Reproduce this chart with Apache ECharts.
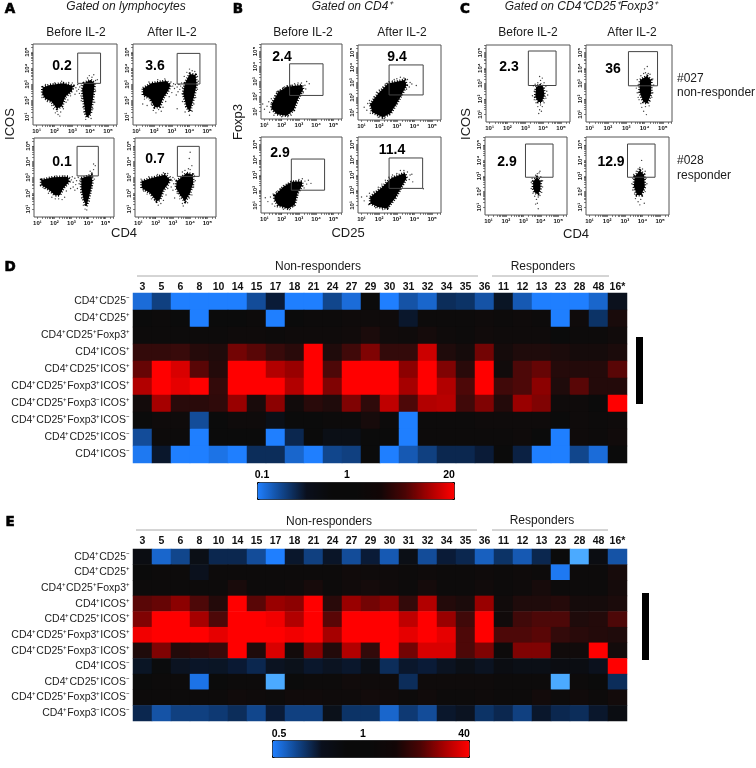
<!DOCTYPE html>
<html><head><meta charset="utf-8">
<style>html,body{margin:0;padding:0;background:#fff}#c{width:756px;height:768px}</style>
<script src="https://cdn.jsdelivr.net/npm/echarts@6/dist/echarts.min.js"></script>
</head><body><div id="c"></div>
<script>
// ---- heatmap categories ----
const patients = ['3','5','6','8','10','14','15','17','18','21','24','27','29','30','31','32','34','35','36','11','12','13','23','28','48','16*'];
const rowsD = ['CD4⁺CD25⁻','CD4⁺CD25⁺','CD4⁺CD25⁺Foxp3⁺','CD4⁺ICOS⁺','CD4⁺CD25⁺ICOS⁺','CD4⁺CD25⁺Foxp3⁺ICOS⁺','CD4⁺CD25⁺Foxp3⁻ICOS⁺','CD4⁺CD25⁺Foxp3⁺ICOS⁻','CD4⁺CD25⁺ICOS⁻','CD4⁺ICOS⁻'];
const rowsE = ['CD4⁺CD25⁻','CD4⁺CD25⁺','CD4⁺CD25⁺Foxp3⁺','CD4⁺ICOS⁺','CD4⁺CD25⁺ICOS⁺','CD4⁺CD25⁺Foxp3⁺ICOS⁺','CD4⁺CD25⁺Foxp3⁻ICOS⁺','CD4⁺ICOS⁻','CD4⁺CD25⁺ICOS⁻','CD4⁺CD25⁺Foxp3⁺ICOS⁻','CD4⁺Foxp3⁻ICOS⁻'];
// ---- heatmap values: position on the colour scale, -1 = low end, 0 = "1", +1 = high end ----
const valuesD = [
[-.85,-.5,-1,-1,-1,-1,-.6,-.2,-1,-1,-.55,-.85,0,-1,-.65,-.8,-.35,-.4,-.65,-.12,-.7,-1,-1,-1,-.8,-.08],
[0,.01,0,-1,0,0,.01,-1,0,.01,.01,.02,.02,.02,-.15,.01,.01,.01,.02,.01,.02,.01,-1,.02,-.4,.07],
[.01,.01,.01,.01,.01,.02,.02,.01,.02,.02,.02,.03,.08,.03,.02,.05,.02,.01,.03,.02,.02,.02,0,.01,.01,.03],
[.2,.2,.22,.13,.1,.45,.35,.22,.15,1,.1,.25,.5,.2,.2,.8,.1,.05,.45,.05,.1,.1,.08,.05,.05,.08],
[.4,1,.85,.35,.12,1,1,.7,.6,1,.3,1,1,1,.55,1,.5,.15,1,.03,.3,.4,.13,.12,.12,.35],
[.7,1,.9,1,.2,1,1,1,.7,1,.5,1,1,1,.65,1,.7,.3,1,.25,.3,.55,.1,.35,.12,.12],
[.04,.65,.15,.15,.18,.6,.07,.55,.03,.15,.1,.5,.18,.75,.3,.7,.72,.25,.5,.12,.6,.5,.02,.02,0,1],
[0,.02,.02,-.6,0,.02,.02,-.05,0,0,.01,.01,.06,.01,-1,.01,.01,.01,.02,.02,.02,.02,0,.02,.01,.02],
[-.6,.01,.01,-1,0,0,0,-1,-.3,0,-.05,-.05,0,0,-1,.01,.01,.01,.01,.01,.02,0,-1,.02,.01,.03],
[-.95,-.15,-1,-1,-.9,-1,-.35,-.35,-.8,-1,-.55,-.5,0,-1,-.7,-.5,-.3,-.3,-.2,0,-.25,-1,-1,-.55,-.85,0]];
const valuesE = [
[-.03,-.8,-.55,-.05,-.3,-.3,-.6,-1,-.15,-.5,-.13,-.6,-.2,-.7,-.05,-.6,-.2,-.3,-.75,-.4,-.7,-.3,0,-1.3,-.03,-.65],
[0,.01,.01,-.08,.01,.01,.01,.01,.01,.01,.01,.03,.02,.02,.01,.02,.01,.01,.02,.01,.02,.01,-.95,.01,.01,.06],
[.01,.01,.01,.01,.01,.07,.01,.01,.02,.06,.01,.03,.05,.03,.01,.05,.01,.01,.03,.01,.02,.06,.01,.01,.01,.05],
[.35,.4,.55,.3,.12,1,.35,.6,.55,1,.15,.6,.45,.55,.2,.7,.12,.08,.6,.03,.1,.1,.13,.05,.05,.08],
[.5,1,1,.65,.3,1,1,.95,.7,1,.35,1,1,1,.75,1,.6,.25,1,.03,.25,.3,.3,.1,.12,.3],
[.95,1,1,1,.9,1,1,1,.95,1,.65,1,1,1,.9,1,.9,.3,1,.3,.3,.35,.2,.15,.12,.1],
[.1,.5,.12,.17,.22,1,.1,.85,.04,.55,.12,.7,.2,1,.45,.85,.85,.3,.5,.01,.5,.5,.03,.03,1,.04],
[-.12,-.01,-.1,-.13,-.12,-.18,-.3,-.1,-.07,-.15,-.1,-.15,-.05,-.35,-.15,-.2,-.1,-.05,-.1,-.03,-.05,-.05,-.03,-.03,-.08,1],
[0,.01,.01,-.9,0,.01,.01,-1.3,0,.01,.01,.03,.02,.02,-.35,.02,.02,.02,.02,.01,.01,.01,-1.3,.01,0,-.35],
[.01,.01,.01,.01,.01,.03,.02,.01,.03,.03,.02,.02,.04,.03,.01,.03,.01,.01,.02,.01,.01,.04,.01,.03,.01,.04],
[-.3,-.65,-.5,-.5,-.45,-.35,-.55,-.2,-.5,-.5,-.07,-.4,-.4,-.8,-.45,-.6,-.15,-.1,-.4,-.3,-.5,-.15,-.3,-.35,-.15,-.03]];

// ---- flow panels: all coordinates are log10 fluorescence ----
const tickDecades = [1,2,3,4,5];
const tickLabels = {1:'10¹',2:'10²',3:'10³',4:'10⁴',5:'10⁵'};
const logMinorOffsets = [0,.3,.48,.6,.7,.78,.85,.9,.95];
const panelNumbers = {a1:'0.2',a2:'3.6',a3:'0.1',a4:'0.7',b1:'2.4',b2:'9.4',b3:'2.9',b4:'11.4',c1:'2.3',c2:'36',c3:'2.9',c4:'12.9'};

const gateA1=[3.3,4.58,3.07,4.94], gateA2=[3.3,4.59,3.03,4.92], gateA3=[3.33,4.58,3.1,4.97], gateA4=[3.26,4.53,3.07,4.97];
const gateB1=[2.46,4.4,2.07,4.18], gateB2=[2.56,4.49,2.17,4.17], gateB3=[2.56,4.49,2.0,4.05], gateB4=[2.56,4.46,2.12,4.12];
const gateC1=[3.17,4.72,2.87,5.11], gateC2=[3.12,4.71,2.85,5.07], gateC3=[3.12,4.7,2.92,5.05], gateC4=[3.15,4.71,2.92,5.05];

const blobsA1=[[[1.34,2.82],[1.75,2.97],[2.51,3.07],[3.04,2.91],[2.98,2.62],[2.6,2.24],[2.42,1.66],[2.13,1.52],[1.85,1.93],[1.47,2.14],[1.32,2.45]],
 [[3.64,3.07],[4.02,3.28],[4.25,3.07],[4.17,2.24],[4.02,1.2],[3.83,.96],[3.74,1.2],[3.6,2.24],[3.55,2.66]]];
const blobsA2=[[[1.37,2.76],[1.84,3.07],[2.69,3.22],[2.92,2.97],[2.79,2.62],[2.5,2.15],[2.32,1.63],[2.03,1.59],[1.75,2.15],[1.37,2.35]],
 [[3.74,3.07],[4.02,3.65],[4.34,3.59],[4.4,2.97],[4.25,2.25],[4.02,1.32],[3.83,1.63],[3.64,2.45]]];
const blobsA3=[[[1.23,2.84],[1.92,3.01],[2.8,3.05],[2.86,2.73],[2.51,2.31],[2.31,1.88],[2.02,1.88],[1.72,2.2],[1.23,2.52]],
 [[3.58,2.95],[4.17,3.16],[4.23,2.73],[4.04,1.78],[3.88,1.18],[3.72,1.56],[3.58,2.31]]];
const blobsA4=[[[1.19,2.76],[1.77,2.97],[2.54,3.18],[2.83,2.86],[2.73,2.61],[2.44,2.19],[2.25,1.6],[2.06,1.49],[1.67,2.02],[1.19,2.34]],
 [[3.22,2.76],[3.8,3.28],[4.15,3.18],[4.18,2.65],[3.99,2.02],[3.7,1.49],[3.41,1.91],[3.18,2.34]]];
const blobsB1=[[[1.44,1.53],[1.8,2.3],[2.3,2.65],[3.18,2.76],[3.24,2.47],[2.95,1.85],[2.7,1.1],[2.3,.72],[1.73,.82],[1.4,1.2]]];
const blobsB2=[[[1.5,1.55],[1.95,2.27],[2.5,2.93],[3.45,3.17],[3.55,2.83],[3.3,2.25],[3.05,1.72],[2.65,.95],[2.2,.68],[1.6,1.02]]];
const blobsB3=[[[1.58,1.65],[2.1,2.22],[2.6,2.55],[3.18,2.58],[3.18,2.3],[2.92,1.82],[2.75,1.05],[2.38,.78],[1.8,1],[1.58,1.38]]];
const blobsB4=[[[1.5,1.55],[2.12,2.15],[2.7,2.8],[3.45,3.13],[3.55,2.8],[3.2,2.1],[2.95,1.55],[2.45,.8],[1.94,.9],[1.5,1.12]]];
const blobsC1=[[[3.6,2.74],[3.82,2.96],[4.01,2.78],[4.07,2.24],[3.92,1.8],[3.73,1.8],[3.56,2.13]]];
const blobsC2=[[[3.76,3.22],[4.13,3.48],[4.36,3.22],[4.36,2.35],[4.16,1.7],[3.94,1.8],[3.73,2.46]]];
const blobsC3=[[[3.56,2.65],[3.78,2.92],[3.99,2.65],[3.97,2.11],[3.84,1.85],[3.65,1.94],[3.56,2.22]]];
const blobsC4=[[[3.56,2.97],[3.85,3.35],[4.09,3.08],[4.13,2.32],[3.94,1.79],[3.69,1.79],[3.51,2.32]]];

const dotsA1=[[3.1,2.95],[3.2,2.8],[3.25,2.6],[3.3,3],[3.35,2.7],[3.4,2.45],[3.42,2.85],[3.48,2.3],[3.5,2.95],[3.52,2.15],[3.15,2.4],[3.05,2.75],[2.9,2.3],[2.75,2.05],[2.65,1.9],[2.5,1.5],[2.35,1.3],[2.2,1.15],[2.05,1.25],[1.95,1.5],[1.85,1.7],[2.15,1.35],[2.3,1.05],[1.6,1.95],[1.3,2.2],[1.5,3],[2,3.1],[2.4,3.2],[2.8,3.12],[3,3.1],[3.85,3.4],[4.1,3.45],[4.2,3.6],[4.3,3.25],[3.95,3.55],[4.4,3.3],[4.3,2.6],[4.25,1.9],[4.15,1.5],[3.6,1.6],[3.65,1.3],[3.5,2],[4.05,.9],[3.75,.85]];
const dotsA2=[[2.95,3.15],[3.05,2.9],[3.1,3.05],[3.15,2.75],[3.2,3],[3.3,2.85],[3.35,2.55],[3.4,3],[3.45,2.7],[3.5,2.9],[3.55,3.1],[3.6,2.8],[3.25,2.35],[3,2.5],[2.85,2.25],[2.65,1.95],[2.5,1.6],[2.4,1.35],[2.25,1.45],[2.1,1.25],[1.95,1.4],[1.85,1.75],[1.6,1.7],[1.35,1.8],[1.45,2.1],[2.2,3.3],[2.6,3.35],[1.7,3.15],[3.7,3.5],[3.85,3.75],[4,3.95],[4.15,3.85],[4.3,3.8],[4.45,3.5],[4.5,3.2],[4.45,2.7],[4.35,2.2],[4.25,1.8],[4.15,1.35],[4,1.1],[3.75,1.3],[3.6,1.95],[3.3,1.5]];
const dotsA3=[[2.9,3],[3,2.85],[3.05,3.05],[3.1,2.7],[3.2,2.95],[3.25,2.55],[3.3,2.8],[3.4,3],[3.45,2.6],[3.5,2.8],[3.2,2.2],[3.1,2.4],[3.35,2.3],[2.95,2.3],[2.7,2.15],[2.6,1.75],[2.45,1.6],[2.25,1.65],[2.05,1.65],[1.85,1.75],[1.65,2],[1.4,2.3],[1.3,2.9],[2.1,3.1],[2.5,3.1],[4.1,3.4],[4.2,3.3],[4.3,3.5],[4.25,3.05],[4.35,2.9],[4.4,3.75],[4.3,3.85],[4.2,2.4],[4.1,2.1],[4.05,1.5],[3.7,1.25],[3.6,1.7],[3.8,1],[3.9,.95],[3.55,2.05]];
const dotsA4=[[2.85,3.05],[2.95,2.8],[3,3],[3.05,2.6],[3.1,2.9],[2.9,2.4],[3,2.2],[2.7,2.3],[2.6,1.9],[2.45,1.55],[2.3,1.35],[2.15,1.25],[1.95,1.55],[1.75,1.65],[1.5,1.95],[1.3,2.15],[1.15,2.9],[1.6,3.05],[2.1,3.2],[2.45,3.3],[2.7,3.25],[3.55,3.35],[3.7,3.45],[3.9,3.55],[4,3.5],[4.1,3.75],[3.95,4.2],[4,4.6],[4.25,3.1],[4.3,2.8],[4.2,2.4],[4.1,1.9],[3.95,1.7],[3.85,1.4],[3.55,1.35],[3.4,1.65],[3.25,2],[3.6,1.2],[3.1,1.7]];
const dotsB1=[[.9,1.5],[1,1.15],[1.15,1.35],[1.25,1.65],[1.3,.95],[1.4,1.85],[1.6,2.05],[1.7,2.3],[1.55,.75],[1.9,2.4],[2.1,2.6],[2.3,2.7],[2.55,2.75],[2.75,2.85],[2.95,2.9],[3.15,2.9],[3.35,2.75],[3.4,2.5],[3.45,3],[3.25,2.25],[3.05,2.05],[2.9,1.75],[2.75,1.4],[2.65,1.05],[2.55,.75],[2.35,.65],[2,.65],[3,2.55],[3.6,2.85],[2.15,2.5],[1.5,1.7],[1.8,2.25]];
const dotsB2=[[1.15,1.35],[1.3,1.15],[1.35,1.6],[1.45,1.8],[1.5,.95],[1.7,2.05],[1.85,2.35],[2,2.5],[2.2,2.7],[2.35,2.9],[2.55,3.05],[2.75,3.1],[3,3.25],[3.2,3.35],[3.4,3.3],[3.6,3.2],[3.75,3],[3.7,2.7],[3.4,2.5],[3.25,2.15],[3.05,1.95],[2.95,1.55],[2.75,1.25],[2.6,.85],[2.3,.62],[1.95,.68],[3.85,2.9],[3.55,2.55],[2.85,3.2],[2.45,2.95],[4.1,2.8],[1.75,1.95]];
const dotsB3=[[1.05,1.5],[1.2,1.25],[1.35,1.55],[1.45,1.1],[1.5,1.75],[1.7,1.9],[1.95,2.1],[2.1,2.3],[2.35,2.4],[2.55,2.6],[2.8,2.6],[3,2.7],[3.2,2.75],[3.35,2.6],[3.45,2.4],[3.3,2.15],[3.05,2],[2.9,1.65],[2.8,1.3],[2.7,.95],[2.45,.72],[2.1,.75],[1.75,.9],[3.7,2.45],[3.55,2.65],[1.6,.95],[2.95,2.35]];
const dotsB4=[[1,1.55],[1.15,1.3],[1.3,1.6],[1.4,1.05],[1.45,1.8],[1.7,1.9],[1.95,2.2],[2.15,2.4],[2.35,2.65],[2.55,2.85],[2.75,3],[3,3.1],[3.2,3.3],[3.4,3.3],[3.6,3.2],[3.75,3],[3.7,2.7],[3.35,2.4],[3.2,2.05],[3,1.8],[2.9,1.45],[2.65,1.2],[2.5,.85],[2.2,.72],[1.8,.85],[3.9,2.55],[4.5,2.1],[3.85,3.05],[2.85,1.7]];
const dotsC1=[[3.7,3.05],[3.85,3.2],[3.95,3.35],[3.8,3.45],[4.05,3.05],[4.15,2.8],[4.2,2.5],[3.5,2.5],[3.45,2.85],[3.55,2.95],[3.4,2.2],[3.5,1.95],[3.6,1.75],[3.7,1.5],[3.8,1.3],[3.85,1.6],[3.95,1.5],[4.05,1.75],[4.15,2.05],[3.75,1.05],[3.9,1.2],[4.25,2.25]];
const dotsC2=[[3.8,3.5],[3.95,3.65],[4.05,3.7],[4.2,3.65],[4.3,3.6],[4,3.95],[4.15,4.1],[4.45,3.3],[4.5,2.9],[4.45,2.4],[3.65,2.9],[3.6,3.25],[3.6,2.4],[3.65,2.1],[3.8,1.7],[3.85,1.45],[3.95,1.2],[4.05,1.5],[4.1,.98],[4.25,1.55],[4.3,1.85],[4.4,2.1],[3.7,1.95],[3.55,2.7]];
const dotsC3=[[3.7,3.05],[3.8,3.15],[3.9,3.2],[4,2.95],[4.1,2.7],[4.1,2.3],[3.45,2.6],[3.5,2.85],[3.45,2.2],[3.55,1.9],[3.65,1.7],[3.75,1.5],[3.85,1.65],[3.8,1.25],[3.95,1.75],[4.05,1.95],[3.7,1.2],[3.85,.9],[3.95,3.3]];
const dotsC4=[[3.65,3.3],[3.75,3.45],[3.85,3.55],[4,3.45],[4.15,3.3],[3.95,4],[4.2,2.85],[4.25,2.5],[3.45,2.85],[3.4,2.5],[3.5,3.1],[3.45,2.1],[3.55,1.85],[3.6,1.55],[3.75,1.35],[3.9,1.5],[4,1.7],[4.15,2],[3.85,1.15],[4.1,1.25],[3.65,1.7]];

// panels: frame [left, top, right, bottom]
const frames={a1:[33,44,117,125],a2:[133,44,216,125],a3:[34,138,114,217],a4:[135,138,216,217],
 b1:[261,44,342,119],b2:[358,45,441,120],b3:[261,137,342,213],b4:[358,137,441,213],
 c1:[486,45,570,122],c2:[586,45,672,122],c3:[485,137,567,215],c4:[586,137,669,215]};
const panels=[['a1',blobsA1,dotsA1,gateA1],['a2',blobsA2,dotsA2,gateA2],['a3',blobsA3,dotsA3,gateA3],['a4',blobsA4,dotsA4,gateA4],
 ['b1',blobsB1,dotsB1,gateB1],['b2',blobsB2,dotsB2,gateB2],['b3',blobsB3,dotsB3,gateB3],['b4',blobsB4,dotsB4,gateB4],
 ['c1',blobsC1,dotsC1,gateC1],['c2',blobsC2,dotsC2,gateC2],['c3',blobsC3,dotsC3,gateC3],['c4',blobsC4,dotsC4,gateC4]];

const sans="'Liberation Sans',Arial,sans-serif";
const minorTicks=[];
[1,2,3,4].forEach(d=>logMinorOffsets.forEach(o=>minorTicks.push(+(d+o).toFixed(2))));
minorTicks.push(5);
[5.3,5.48].forEach(v=>minorTicks.push(v));

const grids=[],xAxes=[],yAxes=[],series=[];
function flowAxis(min,max,rotate){
 return {type:'value',min,max,
  axisLine:{show:false},splitLine:{show:false},
  axisTick:{show:true,length:2,customValues:minorTicks,lineStyle:{color:'#333',width:.6}},
  axisLabel:{show:true,customValues:tickDecades,rotate,margin:3,fontSize:6,fontWeight:'bold',color:'#111',fontFamily:sans,
    hideOverlap:false,showMinLabel:true,showMaxLabel:true,formatter:v=>tickLabels[v]||''}};
}
panels.forEach(([key,blobs,dots,gate],i)=>{
 const f=frames[key];
 grids.push({show:true,left:f[0],top:f[1],width:f[2]-f[0],height:f[3]-f[1],borderColor:'#555',borderWidth:1,backgroundColor:'#fff'});
 xAxes.push(Object.assign({gridIndex:i},flowAxis(.8,5.5,0)));
 yAxes.push(Object.assign({gridIndex:i},flowAxis(.5,5.5,90)));
 series.push({type:'custom',name:key+' population',xAxisIndex:i,yAxisIndex:i,silent:true,
   data:blobs.map((b,j)=>[b[0][0],b[0][1],j]),
   renderItem:(p,api)=>({type:'polygon',shape:{points:blobs[api.value(2)].map(q=>api.coord(q))},
     style:{fill:'#000',stroke:'#000',lineWidth:3,lineDash:[1,1.6]}})});
 series.push({type:'scatter',name:key+' events',xAxisIndex:i,yAxisIndex:i,silent:true,data:dots,symbolSize:1.4,itemStyle:{color:'#111'}});
 series.push({type:'custom',name:key+' gate',xAxisIndex:i,yAxisIndex:i,silent:true,data:[gate],encode:{x:[0,1],y:[2,3]},
   renderItem:(p,api)=>{const a=api.coord([api.value(0),api.value(3)]),b=api.coord([api.value(1),api.value(2)]);
     return {type:'rect',shape:{x:a[0],y:a[1],width:b[0]-a[0],height:b[1]-a[1]},style:{fill:'none',stroke:'#444',lineWidth:1}};}});
});

function heat(idx,rect,rows,vals,labelMargin){
 grids.push({left:rect[0],top:rect[1],width:rect[2],height:rect[3]});
 xAxes.push({gridIndex:idx,type:'category',position:'top',data:patients,axisLine:{show:false},axisTick:{show:false},splitLine:{show:false},
   axisLabel:{interval:0,margin:labelMargin,fontSize:10.5,fontWeight:'bold',color:'#111',fontFamily:sans}});
 yAxes.push({gridIndex:idx,type:'category',inverse:true,data:rows,axisLine:{show:false},axisTick:{show:false},splitLine:{show:false},
   axisLabel:{interval:0,margin:3,fontSize:10.5,color:'#222',fontFamily:sans}});
 const d=[];vals.forEach((r,y)=>r.forEach((v,x)=>d.push([x,y,v])));
 series.push({type:'heatmap',name:'heat'+idx,xAxisIndex:idx,yAxisIndex:idx,data:d,silent:true,progressive:0,animation:false});
 return series.length-1;
}
const sD=heat(12,[133,293,494,170],rowsD,valuesD,0);
const sE=heat(13,[133,549,494,172],rowsE,valuesE,2);
series.push({type:'scatter',name:'scale keys',xAxisIndex:0,yAxisIndex:0,data:[]});
const sKey=series.length-1;

const cellColors=['#5ab8ff','#3c9cff','#1f7fff','#1966cc','#134c99','#0c3366','#0a1b37','#0b0b0b','#330a0a','#660505','#990000','#cc0000','#ff0000'];
const barColors=['#1f7fff','#10458c','#0a0f1c','#0a0a0a','#0a0a0a','#120606','#4a0404','#aa0000','#ff0000'];
const visualMap=[
 {show:false,min:-1.4,max:1,seriesIndex:[sD,sE],inRange:{color:cellColors}},
 {show:true,type:'continuous',orient:'horizontal',left:257,top:482,itemWidth:17,itemHeight:197,padding:0,borderColor:'#000',borderWidth:1,
  min:-1,max:1,seriesIndex:[sKey],calculable:false,hoverLink:false,inRange:{color:barColors}},
 {show:true,type:'continuous',orient:'horizontal',left:272,top:740,itemWidth:17,itemHeight:197,padding:0,borderColor:'#000',borderWidth:1,
  min:-1,max:1,seriesIndex:[sKey],calculable:false,hoverLink:false,inRange:{color:barColors}}
];

function T(x,y,text,o){o=o||{};return {type:'text',x,y,rotation:o.rot||0,z:50,silent:true,style:{text,fontFamily:o.ff||sans,fontSize:o.s||12,
 fontWeight:o.w||'normal',fontStyle:o.i?'italic':'normal',fill:o.c||'#1a1a1a',stroke:o.st||null,lineWidth:o.st?.6:0,align:o.a||'center',verticalAlign:'middle'}};}
const L={s:13.5,w:'bold',ff:"'DejaVu Sans',sans-serif",c:'#000',st:'#000'};
const I={s:12,i:true};const H={s:12};const N={s:14,w:'bold',c:'#000'};const AX={s:13};const R90=Math.PI/2;
const BL={s:10.5,w:'bold',c:'#000'};
const S={s:12,a:'left'};
const graphics=[
 T(10,9,'A',L),T(238,9,'B',L),T(465,9,'C',L),T(10,267,'D',L),T(10,522,'E',L),
 T(126,7,'Gated on lymphocytes',I),T(352,7,'Gated on CD4⁺',I),T(581,7,'Gated on CD4⁺CD25⁺Foxp3⁺',I),
 T(76,33,'Before IL-2',H),T(172,33,'After IL-2',H),T(303,33,'Before IL-2',H),T(402,33,'After IL-2',H),T(528,33,'Before IL-2',H),T(632,33,'After IL-2',H),
 T(10,124,'ICOS',Object.assign({rot:R90},AX)),T(238,122,'Foxp3',Object.assign({rot:R90},AX)),T(466,124,'ICOS',Object.assign({rot:R90},AX)),
 T(124,233,'CD4',AX),T(348,233,'CD25',AX),T(576,234,'CD4',AX),
 T(62,66,panelNumbers.a1,N),T(155,66,panelNumbers.a2,N),T(62,162,panelNumbers.a3,N),T(155,159,panelNumbers.a4,N),
 T(282,57,panelNumbers.b1,N),T(397,57,panelNumbers.b2,N),T(280,153,panelNumbers.b3,N),T(392,150,panelNumbers.b4,N),
 T(509,67,panelNumbers.c1,N),T(613,69,panelNumbers.c2,N),T(507,162,panelNumbers.c3,N),T(611,162,panelNumbers.c4,N),
 T(677,79,'#027',S),T(677,93,'non-responder',S),T(677,161,'#028',S),T(677,176,'responder',S),
 T(318,267,'Non-responders',H),T(543,267,'Responders',H),T(329,522,'Non-responders',H),T(542,521,'Responders',H),
 T(262,475,'0.1',BL),T(347,475,'1',BL),T(449,475,'20',BL),T(279,734,'0.5',BL),T(363,734,'1',BL),T(464,734,'40',BL),
 {type:'line',silent:true,shape:{x1:137,y1:276,x2:478,y2:276},style:{stroke:'#aaa',lineWidth:1}},
 {type:'line',silent:true,shape:{x1:492,y1:276,x2:609,y2:276},style:{stroke:'#aaa',lineWidth:1}},
 {type:'line',silent:true,shape:{x1:136,y1:530,x2:477,y2:530},style:{stroke:'#aaa',lineWidth:1}},
 {type:'line',silent:true,shape:{x1:492,y1:530,x2:608,y2:530},style:{stroke:'#aaa',lineWidth:1}},
 {type:'rect',silent:true,shape:{x:636,y:337,width:7,height:67},style:{fill:'#000'}},
 {type:'rect',silent:true,shape:{x:642,y:593,width:7,height:67},style:{fill:'#000'}}
];

const chart=echarts.init(document.getElementById('c'),null,{renderer:'canvas'});
chart.setOption({animation:false,backgroundColor:'#fff',tooltip:{show:false},grid:grids,xAxis:xAxes,yAxis:yAxes,series,visualMap,graphic:{elements:graphics}});
</script></body></html>
